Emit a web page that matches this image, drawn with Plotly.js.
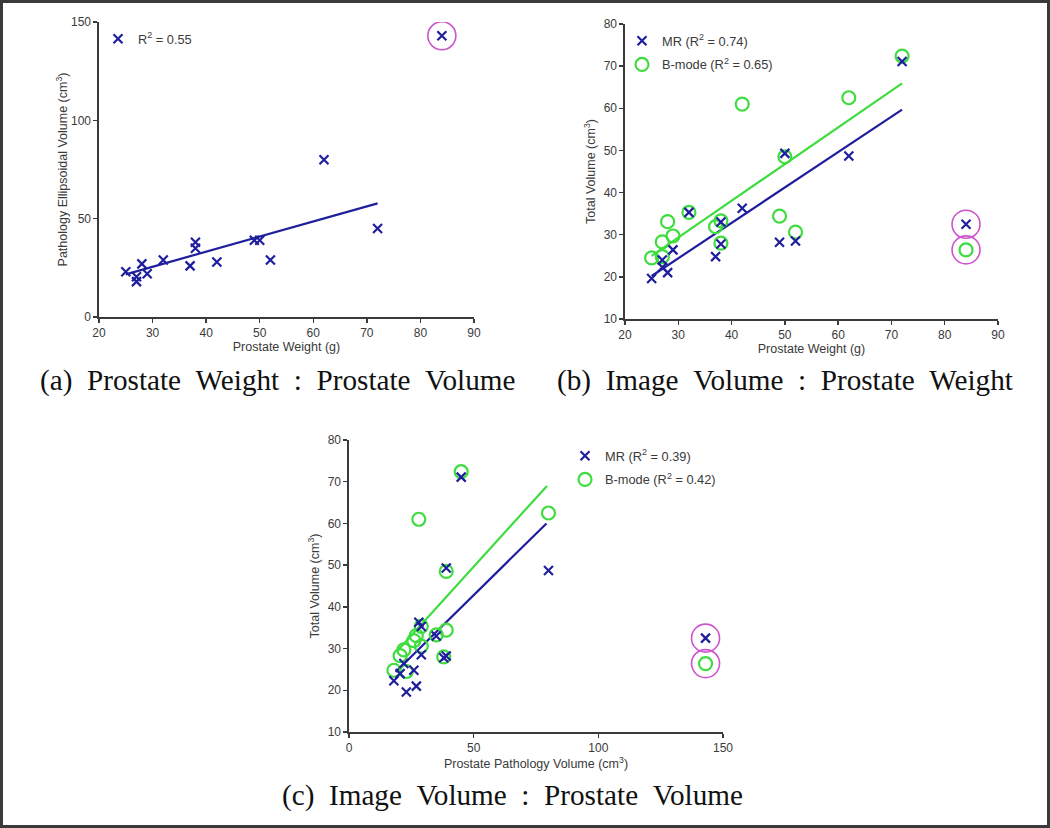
<!DOCTYPE html>
<html>
<head>
<meta charset="utf-8">
<script src="https://cdn.plot.ly/plotly-3.0.1.min.js"></script>
<style>
  html, body { margin: 0; padding: 0; background: #fff; }
  #frame { position: absolute; left: 0; top: 0; width: 1044px; height: 822px; border: 3px solid #3a3a3a; }
  #chart { position: absolute; left: 0; top: 0; width: 1050px; height: 828px; }
</style>
</head>
<body>
<div id="chart"></div>
<div id="frame"></div>
<script>
// ---- data (one entry per patient) ----
const weight   = [25, 27, 27, 28, 29, 32, 37, 38, 38, 42, 49, 50, 52, 62, 72];
const pathVol  = [23, 20.5, 18, 27, 22, 29, 26, 35, 38, 28, 39, 39, 29, 80, 45];
const mrVol    = [19.6, 24.0, 22.3, 21.0, 26.4, 35.3, 24.8, 33.0, 27.8, 36.3, 28.2, 49.3, 28.5, 48.7, 71.1];
const bmodeVol = [24.5, 28.3, 24.8, 33.1, 29.7, 35.3, 31.9, 33.3, 28.0, 61.0, 34.4, 48.5, 30.6, 62.5, 72.4];
// outlier patient (circled in magenta)
const outWeight = [84];
const outPath   = [143];
const outMR     = [32.5];
const outBmode  = [26.4];
// fitted lines (end points)
const fitA_x  = [25, 72];   const fitA_y  = [21.7, 57.8];
const fitBmr_x = [25, 72];  const fitBmr_y = [20.2, 59.7];
const fitBb_x  = [25, 72];  const fitBb_y  = [25.0, 65.9];
const fitCmr_x = [18.7, 79.2]; const fitCmr_y = [24.4, 60.0];
const fitCb_x  = [19.0, 79.4]; const fitCb_y  = [29.2, 69.0];
// legend labels
const legA  = 'R<sup>2</sup> = 0.55';
const legBmr = 'MR (R<sup>2</sup> = 0.74)';
const legBb  = 'B-mode (R<sup>2</sup> = 0.65)';
const legCmr = 'MR (R<sup>2</sup> = 0.39)';
const legCb  = 'B-mode (R<sup>2</sup> = 0.42)';
const captions = ['(a) Prostate Weight : Prostate Volume',
                  '(b) Image Volume : Prostate Weight',
                  '(c) Image Volume : Prostate Volume'];

const BLUE = '#1f1f9e', GREEN = '#3fdc3f', MAG = '#cc55cc';
const xMark = {symbol: 'x-thin', size: 9, line: {color: BLUE, width: 2.2}, color: BLUE};
const oMark = {symbol: 'circle-open', size: 13, color: GREEN, line: {color: GREEN, width: 2.2}};
const magMark = {symbol: 'circle-open', size: 28, color: MAG, line: {color: MAG, width: 1.6}};

const traces = [
  // (a)
  {x: fitA_x, y: fitA_y, xaxis: 'x', yaxis: 'y', mode: 'lines', line: {color: BLUE, width: 2.2}, showlegend: false},
  {x: weight, y: pathVol, xaxis: 'x', yaxis: 'y', mode: 'markers', marker: xMark, name: legA, legend: 'legend'},
  {x: outWeight, y: outPath, xaxis: 'x', yaxis: 'y', mode: 'markers', marker: xMark, showlegend: false},
  {x: outWeight, y: outPath, xaxis: 'x', yaxis: 'y', mode: 'markers', marker: magMark, showlegend: false},
  // (b)
  {x: fitBb_x, y: fitBb_y, xaxis: 'x2', yaxis: 'y2', mode: 'lines', line: {color: GREEN, width: 2.2}, showlegend: false},
  {x: fitBmr_x, y: fitBmr_y, xaxis: 'x2', yaxis: 'y2', mode: 'lines', line: {color: BLUE, width: 2.2}, showlegend: false},
  {x: weight, y: bmodeVol, xaxis: 'x2', yaxis: 'y2', mode: 'markers', marker: oMark, name: legBb, legend: 'legend2', legendrank: 2, legendgroup: 'b2'},
  {x: weight, y: mrVol, xaxis: 'x2', yaxis: 'y2', mode: 'markers', marker: xMark, name: legBmr, legend: 'legend2', legendrank: 1, legendgroup: 'b1'},
  {x: outWeight, y: outBmode, xaxis: 'x2', yaxis: 'y2', mode: 'markers', marker: oMark, showlegend: false},
  {x: outWeight, y: outMR, xaxis: 'x2', yaxis: 'y2', mode: 'markers', marker: xMark, showlegend: false},
  {x: outWeight.concat(outWeight), y: outMR.concat(outBmode), xaxis: 'x2', yaxis: 'y2', mode: 'markers', marker: magMark, showlegend: false},
  // (c)
  {x: fitCb_x, y: fitCb_y, xaxis: 'x3', yaxis: 'y3', mode: 'lines', line: {color: GREEN, width: 2.2}, showlegend: false},
  {x: fitCmr_x, y: fitCmr_y, xaxis: 'x3', yaxis: 'y3', mode: 'lines', line: {color: BLUE, width: 2.2}, showlegend: false},
  {x: pathVol, y: bmodeVol, xaxis: 'x3', yaxis: 'y3', mode: 'markers', marker: oMark, name: legCb, legend: 'legend3', legendrank: 2, legendgroup: 'c2'},
  {x: pathVol, y: mrVol, xaxis: 'x3', yaxis: 'y3', mode: 'markers', marker: xMark, name: legCmr, legend: 'legend3', legendrank: 1, legendgroup: 'c1'},
  {x: outPath, y: outBmode, xaxis: 'x3', yaxis: 'y3', mode: 'markers', marker: oMark, showlegend: false},
  {x: outPath, y: outMR, xaxis: 'x3', yaxis: 'y3', mode: 'markers', marker: xMark, showlegend: false},
  {x: outPath.concat(outPath), y: outMR.concat(outBmode), xaxis: 'x3', yaxis: 'y3', mode: 'markers', marker: magMark, showlegend: false}
];

const W = 1050, H = 828;
const tickFont = {family: 'Liberation Sans, Arial, sans-serif', size: 12, color: '#3a3a3a'};
const titleFont = {family: 'Liberation Sans, Arial, sans-serif', size: 12.5, color: '#3a3a3a'};
function ax(domain, range, dtick, title, standoff, anchor) {
  return {
    domain: domain, range: range, dtick: dtick, tick0: 0, autorange: false, anchor: anchor,
    showline: true, linecolor: '#3a3a3a', linewidth: 1.6,
    ticks: 'outside', ticklen: 4, tickwidth: 1.4, tickcolor: '#3a3a3a',
    showgrid: false, zeroline: false, tickfont: tickFont,
    title: {text: title, font: titleFont, standoff: standoff},
    fixedrange: true
  };
}
function px(v) { return v / W; }
function py(v) { return 1 - v / H; }
const legFont = {family: 'Liberation Sans, Arial, sans-serif', size: 12.8, color: '#3a3a3a'};
function leg(x, y) {
  return {x: x, y: y, xanchor: 'left', yanchor: 'top', bgcolor: 'rgba(0,0,0,0)', font: legFont,
          traceorder: 'grouped', tracegroupgap: 4, itemwidth: 30};
}
const SP = '\u00a0';
function spaced(s) { return s.split(' ').join(SP + SP); }
const capFont = {family: 'Liberation Serif, Times New Roman, serif', size: 29.2, color: '#111'};

const layout = {
  width: W, height: H, margin: {l: 0, r: 0, t: 0, b: 0},
  paper_bgcolor: '#ffffff', plot_bgcolor: '#ffffff',
  xaxis:  ax([px(99), px(474)], [20, 90], 10, 'Prostate Weight (g)', 1, 'y'),
  yaxis:  ax([py(317), py(22)], [0, 150], 50, 'Pathology Ellipsoidal Volume (cm<sup>3</sup>)', 0, 'x'),
  xaxis2: ax([px(625), px(998)], [20, 90], 10, 'Prostate Weight (g)', 1, 'y2'),
  yaxis2: ax([py(319), py(24)], [10, 80], 10, 'Total Volume (cm<sup>3</sup>)', 5, 'x2'),
  xaxis3: ax([px(349), px(723)], [0, 150], 50, 'Prostate Pathology Volume (cm<sup>3</sup>)', 1, 'y3'),
  yaxis3: ax([py(732), py(440)], [10, 80], 10, 'Total Volume (cm<sup>3</sup>)', 5, 'x3'),
  legend:  leg(px(98), py(24)),
  legend2: leg(px(622), py(26)),
  legend3: leg(px(565), py(441)),
  annotations: [
    {text: spaced(captions[0]), x: px(277), y: py(380), xref: 'paper', yref: 'paper', xanchor: 'center', yanchor: 'middle', showarrow: false, font: capFont},
    {text: spaced(captions[1]), x: px(785), y: py(380), xref: 'paper', yref: 'paper', xanchor: 'center', yanchor: 'middle', showarrow: false, font: capFont},
    {text: spaced(captions[2]), x: px(512), y: py(795), xref: 'paper', yref: 'paper', xanchor: 'center', yanchor: 'middle', showarrow: false, font: capFont}
  ]
};

Plotly.newPlot('chart', traces, layout, {displayModeBar: false, staticPlot: true});
</script>
</body>
</html>
